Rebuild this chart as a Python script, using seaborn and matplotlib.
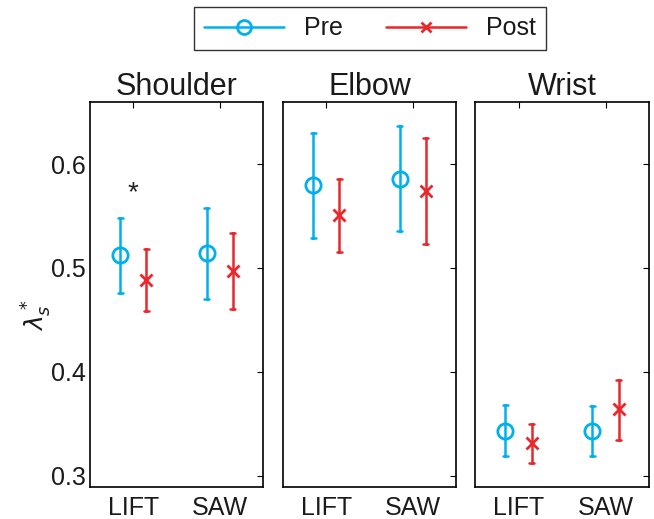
import numpy as np
import pandas as pd
import matplotlib
matplotlib.use("Agg")
import matplotlib.pyplot as plt
from matplotlib.lines import Line2D
import seaborn as sns

joints = ["Shoulder", "Elbow", "Wrist"]
tasks = ["LIFT", "SAW"]
phases = ["Pre", "Post"]

pre_mean = [[0.512, 0.514], [0.580, 0.586], [0.343, 0.343]]
pre_lo = [[0.476, 0.470], [0.529, 0.536], [0.319, 0.319]]
pre_hi = [[0.548, 0.558], [0.630, 0.637], [0.368, 0.367]]
post_mean = [[0.488, 0.497], [0.551, 0.574], [0.331, 0.364]]
post_lo = [[0.459, 0.460], [0.515, 0.523], [0.312, 0.334]]
post_hi = [[0.518, 0.534], [0.586, 0.625], [0.350, 0.392]]

yticks = [0.3, 0.4, 0.5, 0.6]
star_value = 0.572

sns.set_theme(style="white")
plt.rcParams["font.family"] = ["Liberation Sans", "DejaVu Sans"]
plt.rcParams["mathtext.fontset"] = "dejavusans"
plt.rcParams["text.color"] = "#1a1a1a"
plt.rcParams["axes.labelcolor"] = "#1a1a1a"
plt.rcParams["xtick.color"] = "#1a1a1a"
plt.rcParams["ytick.color"] = "#1a1a1a"

pre_color = "#00B0EE"
post_color = "#E8282C"

rows = []
for j, joint in enumerate(joints):
    for t, task in enumerate(tasks):
        for v in (pre_lo[j][t], pre_mean[j][t], pre_hi[j][t]):
            rows.append(dict(joint=joint, task=task, phase="Pre", value=v))
        for v in (post_lo[j][t], post_mean[j][t], post_hi[j][t]):
            rows.append(dict(joint=joint, task=task, phase="Post", value=v))
df = pd.DataFrame(rows)

W, H = 654, 519
fig = plt.figure(figsize=(W / 100, H / 100), dpi=100)
lefts = [90, 283, 475]
widths = [173, 173, 174]
top_px, bot_px = 101.7, 486.7
axes = []
for j, joint in enumerate(joints):
    ax = fig.add_axes([lefts[j] / W, (H - bot_px) / H, widths[j] / W, (bot_px - top_px) / H])
    axes.append(ax)
    sub = df[df.joint == joint]
    sns.pointplot(data=sub, x="task", y="value", hue="phase", order=tasks,
                  hue_order=phases, palette=[pre_color, post_color],
                  estimator="median", errorbar=lambda x: (np.min(x), np.max(x)),
                  dodge=0.3, markers=["o", "x"], linestyles=["none", "none"],
                  capsize=0.06, err_kws={"linewidth": 1.8},
                  markersize=11, markeredgewidth=2, legend=False, ax=ax)
    for ln in ax.lines:
        if ln.get_marker() == "o":
            ln.set_markerfacecolor("none")
        elif ln.get_marker() == "x":
            ln.set_markersize(9)
    ax.set_xlim(-0.5, 1.5)
    ax.set_ylim(0.2894, 0.66)
    ax.set_yticks(yticks)
    ax.set_xlabel("")
    ax.set_ylabel("")
    ax.set_title(joint, fontsize=22, pad=5)
    ax.tick_params(direction="in", top=True, right=True, length=4, width=0.8,
                   labelsize=18, pad=3, color="black")
    ax.tick_params(axis="x", pad=7)
    for s in ax.spines.values():
        s.set_color("black")
        s.set_linewidth(1.2)
    if j > 0:
        ax.set_yticklabels([])
    else:
        ax.set_yticklabels([f"{v:.1f}" for v in yticks])
        ax.set_ylabel(r"$\lambda_s^*$", fontsize=18)
        ax.yaxis.set_label_coords(-0.21, 0.446)

axes[0].text(0, star_value, "*", ha="center", va="center", fontsize=20, color="#222222")

handles = [
    Line2D([], [], color=pre_color, marker="o", markerfacecolor="none",
           markersize=10, markeredgewidth=2, linewidth=1.8),
    Line2D([], [], color=post_color, marker="x", markersize=7,
           markeredgewidth=2, linewidth=1.8),
]
leg = fig.legend(handles, phases, loc="center", bbox_to_anchor=(370 / W, 1 - 28.5 / H),
                 ncol=2, frameon=True, fancybox=False, edgecolor="black",
                 fontsize=18, handlelength=3.2, columnspacing=1.7,
                 borderpad=0.4, handletextpad=0.8)
leg.get_frame().set_linewidth(1.0)

fig.savefig("out.png", dpi=100)
